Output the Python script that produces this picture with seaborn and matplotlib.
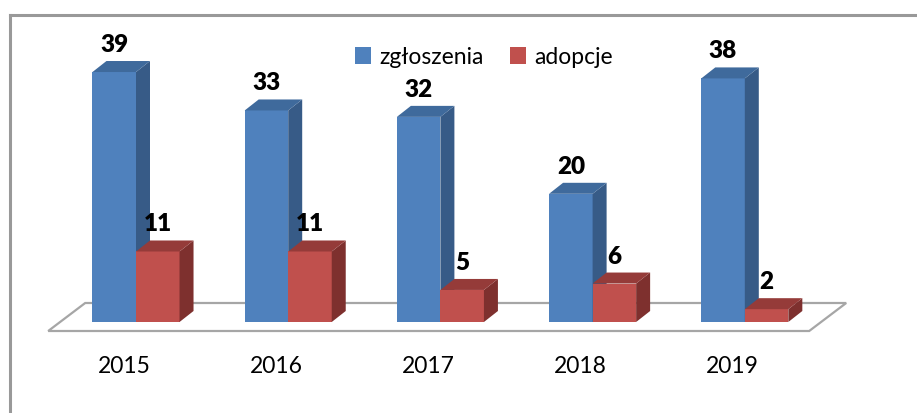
import matplotlib
matplotlib.use("Agg")
import matplotlib.pyplot as plt
import pandas as pd
import seaborn as sns
from matplotlib.patches import Polygon, Patch
from matplotlib.lines import Line2D

# dane z wykresu
years = ["2015", "2016", "2017", "2018", "2019"]
zgloszenia = [39, 33, 32, 20, 38]
adopcje = [11, 11, 5, 6, 2]
series = ["zgłoszenia", "adopcje"]

front = ["#4F81BD", "#C0504D"]
side = ["#375B87", "#7E302E"]
top = ["#3F6A9C", "#953B39"]

df = pd.DataFrame({
    "rok": years * 2,
    "liczba": zgloszenia + adopcje,
    "seria": [series[0]] * len(years) + [series[1]] * len(years),
})

plt.rcParams["font.family"] = ["Lato", "DejaVu Sans"]

W, H = 917, 413
fig = plt.figure(figsize=(W / 100, H / 100), dpi=100)
ax = fig.add_axes([0, 0, 1, 1])
sns.barplot(data=df, x="rok", y="liczba", hue="seria", hue_order=series,
            palette=front, saturation=1, width=0.572, legend=False, ax=ax)

# pixel scale of the axes (152 px per category, 6.41 px per unit)
sx, sy = 152.2, 6.41
ax.set_xlim(-136 / sx, (W - 136) / sx)
ax.set_ylim(-91 / sy, (H - 91) / sy)
ax.axis("off")

# 3d-ish depth of the bars
dx, dy = 14 / sx, 11 / sy

# floor
fx, fy = -11.7 / sx, -9 / sy
bx, by = 37 / sx, 28 / sy
floor = [(-0.5 + fx, fy), (len(years) - 0.5 + fx, fy),
         (len(years) - 0.5 + fx + bx, fy + by), (-0.5 + fx + bx, fy + by)]
ax.add_patch(Polygon(floor, closed=True, facecolor="white", edgecolor="#A6A6A6",
                     lw=1.6, zorder=1))

for k, cont in enumerate(ax.containers):
    for bar in cont:
        x0, w, h = bar.get_x(), bar.get_width(), bar.get_height()
        bar.set_zorder(3 + k)
        bar.set_edgecolor("none")
        ax.add_patch(Polygon([(x0 + w, 0), (x0 + w + dx, dy), (x0 + w + dx, h + dy), (x0 + w, h)],
                             closed=True, facecolor=side[k], edgecolor="none", zorder=3 + k))
        ax.add_patch(Polygon([(x0, h), (x0 + w, h), (x0 + w + dx, h + dy), (x0 + dx, h + dy)],
                             closed=True, facecolor=top[k], edgecolor="none", zorder=3 + k))
        ax.annotate(f"{h:g}", (x0 + w / 2, h), xytext=(0, 20), textcoords="offset pixels",
                    ha="center", va="baseline", fontsize=17.5, fontweight="heavy", zorder=6)

for i, y in enumerate(years):
    ax.annotate(y, (i, 0), xytext=(-12, -51), textcoords="offset pixels",
                ha="center", va="baseline", fontsize=16.5)

handles = [Patch(facecolor=c, label=s) for c, s in zip(front, series)]
fig.legend(handles=handles, loc="center left", bbox_to_anchor=(355 / W, 1 - 57 / H),
           ncol=2, frameon=False, fontsize=16.5, handlelength=0.7, handleheight=0.7,
           handletextpad=0.35, columnspacing=1.15, borderpad=0, borderaxespad=0)

# chart frame (cut at right and bottom)
fig.add_artist(Line2D([9.5 / W, 9.5 / W], [0, 1 - 15 / H], transform=fig.transFigure,
                      color="#999999", lw=2.2))
fig.add_artist(Line2D([9.5 / W, 1], [1 - 15 / H, 1 - 15 / H], transform=fig.transFigure,
                      color="#999999", lw=2.2))

fig.savefig("out.png", dpi=100)
